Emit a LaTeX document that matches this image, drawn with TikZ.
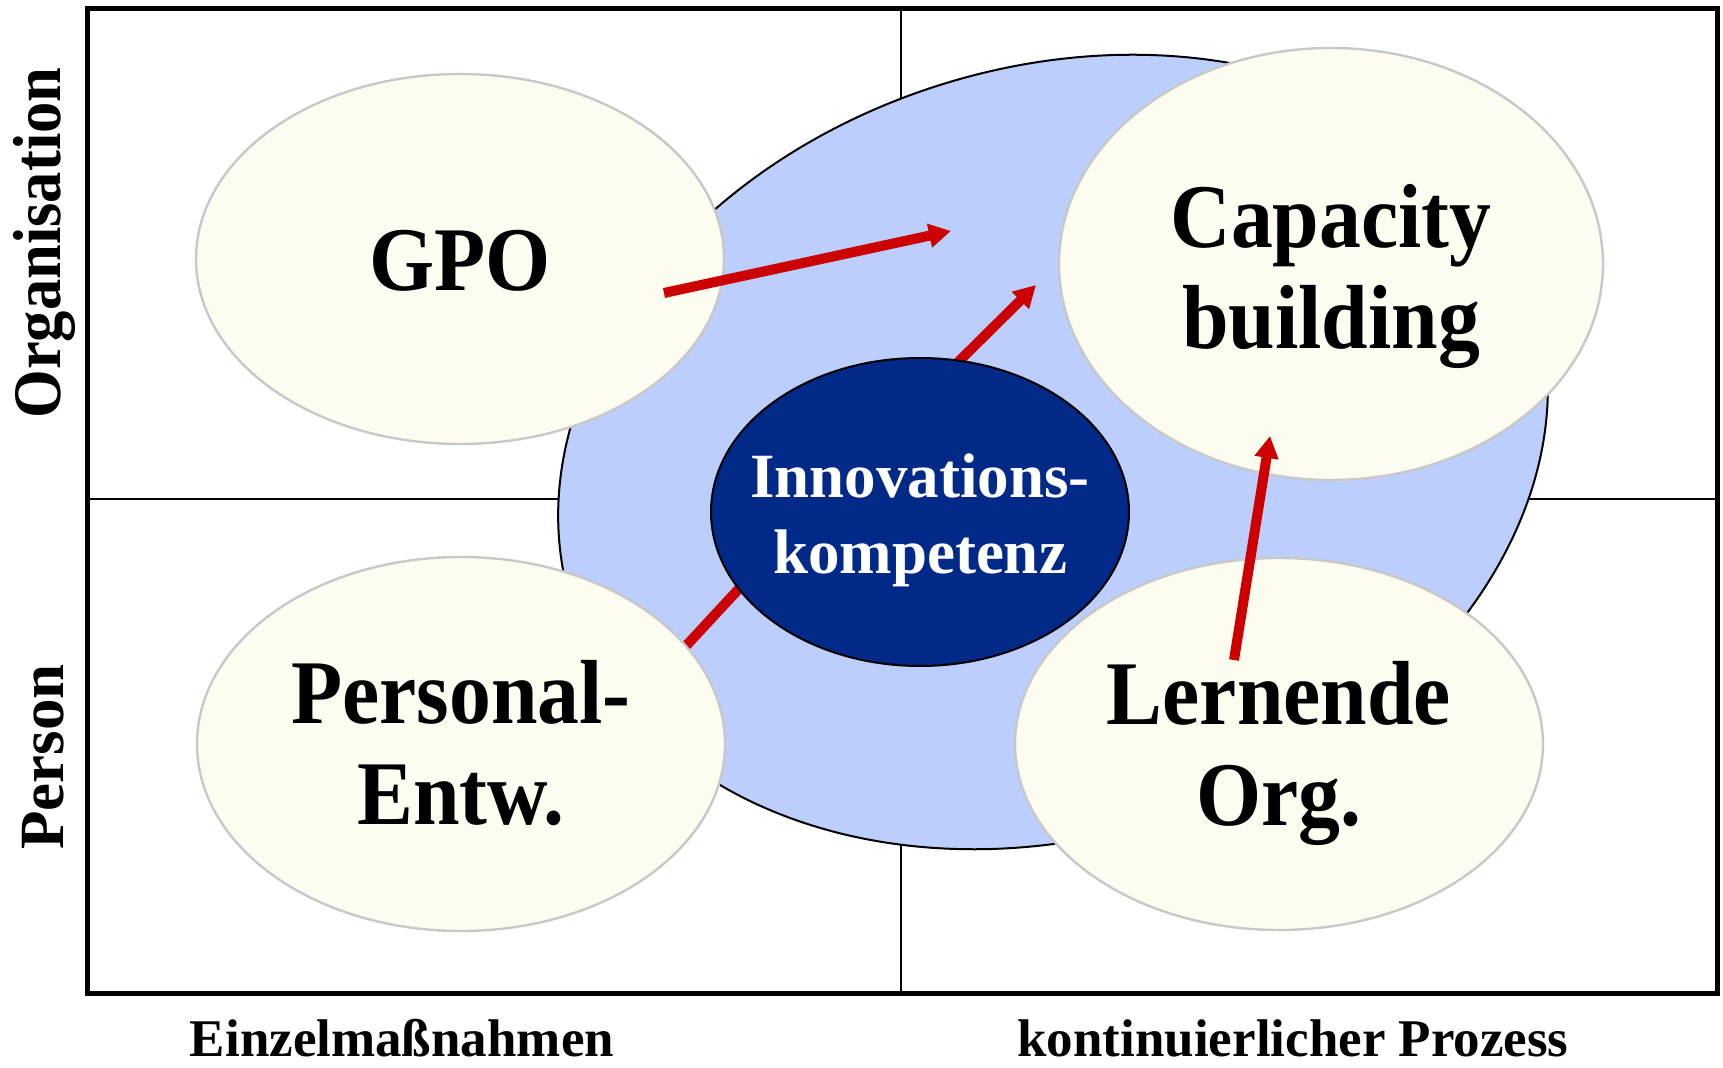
\documentclass[tikz,border=0pt]{standalone}
\usepackage{fontspec}
\setmainfont{Liberation Serif}
\newfontfamily\condfont[FakeStretch=0.92]{Liberation Serif}
\usetikzlibrary{shapes.geometric,arrows.meta}
\definecolor{cream}{RGB}{252,253,240}
\definecolor{lblue}{RGB}{187,206,252}
\definecolor{navy}{RGB}{0,41,136}
\definecolor{arrred}{RGB}{204,0,0}
\definecolor{rimgray}{RGB}{200,200,200}
\begin{document}
\begin{tikzpicture}[x=0.5pt,y=-0.5pt,
  quadline/.style={draw=black,line width=1.1pt},
  frameline/.style={draw=black,line width=2.5pt},
  bigell/.style={ellipse,draw=black,line width=1pt,fill=lblue,inner sep=0pt,
    minimum width=505pt,minimum height=384pt,rotate=18},
  creamell/.style={ellipse,draw=rimgray,line width=1.2pt,fill=cream,inner sep=0pt},
  innoell/.style={ellipse,draw=black,line width=1pt,fill=navy,inner sep=0pt,
    minimum width=209pt,minimum height=154pt},
  redline/.style={draw=arrred,line width=5pt},
  redarrow/.style={draw=arrred,fill=arrred,line width=5pt,-{Triangle[width=11.5pt,length=11pt]}},
  bigtext/.style={align=center,inner sep=0pt,font=\condfont\bfseries\fontsize{45.5}{50.5}\selectfont},
  innotext/.style={align=center,inner sep=0pt,text=white,font=\bfseries\fontsize{31.5}{38}\selectfont},
  axistext/.style={inner sep=0pt,anchor=base,font=\bfseries\fontsize{26.5}{30}\selectfont},
]
\useasboundingbox (0,0) rectangle (1723,1068);
\fill[white] (0,0) rectangle (1723,1068);
% quadrant lines
\draw[quadline] (901,8.5) -- (901,993.5);
\draw[quadline] (87,499) -- (1717,499);
% big blue ellipse
\node[bigell] (big) at (1053,452) {};
% connectors hidden partly behind ellipses
\coordinate (pls) at (660,674);
\coordinate (ple) at (760,566);
\draw[redline] (pls) -- (ple);
\coordinate (ias) at (940,380);
\coordinate (iae) at (1036,285);
\draw[redarrow] (ias) -- (iae);
% cream ellipses
\node[creamell,minimum width=264pt,minimum height=185pt] (gpo) at (460,259) {};
\node[creamell,minimum width=272pt,minimum height=216pt] (cap) at (1331,264) {};
\node[creamell,minimum width=264pt,minimum height=187pt] (pers) at (461,744) {};
\node[creamell,minimum width=264pt,minimum height=186pt] (lern) at (1279,744) {};
% innovation ellipse
\node[innoell] (inno) at (920,512) {};
% arrows on top
\coordinate (gas) at (664,293);
\coordinate (gae) at (951,231);
\draw[redarrow] (gas) -- (gae);
\coordinate (las) at (1234,660);
\coordinate (lae) at (1270,436);
\draw[redarrow] (las) -- (lae);
% texts
\node[bigtext] (tgpo) at (460,261) {GPO};
\node[bigtext] (tcap) at (1331,276) {Capacity\\building};
\node[bigtext] (tpers) at (461,743) {Personal-\\Entw.};
\node[bigtext] (tlern) at (1279,753) {Lernende\\Org.};
\node[innotext] (tinno) at (920,520) {Innovations-\\kompetenz};
% axis labels
\node[inner sep=0pt,anchor=base,rotate=90,font=\condfont\bfseries\fontsize{34}{40}\selectfont] (torg) at (61,243) {Organisation};
\node[inner sep=0pt,anchor=base,rotate=90,font=\bfseries\fontsize{31.5}{36}\selectfont] (tperson) at (63,757) {Person};
\node[axistext] (tein) at (402,1056) {Einzelmaßnahmen};
\node[axistext] (tkon) at (1293,1056) {kontinuierlicher Prozess};
% frame
\draw[frameline] (87,8.5) rectangle (1717,993.5);
\end{tikzpicture}
\end{document}
